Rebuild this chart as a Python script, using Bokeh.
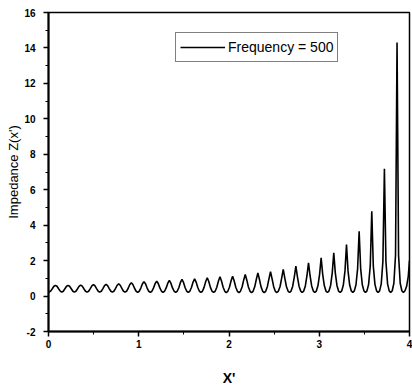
from bokeh.plotting import figure
from bokeh.models import Range1d, Legend, LegendItem, SingleIntervalTicker, ColumnDataSource
from bokeh.embed import file_html
from bokeh.resources import INLINE

# ---- data ----
series_name = "Frequency = 500"
period = 0.1402
start_x, start_z = 0.0, 0.30
peak_x = [0.077, 0.217, 0.357, 0.498, 0.638, 0.778, 0.918, 1.058, 1.199, 1.339,
          1.479, 1.619, 1.759, 1.900, 2.040, 2.180, 2.320, 2.460, 2.601, 2.741,
          2.881, 3.021, 3.161, 3.302, 3.442, 3.582, 3.722, 3.862]
peak_z = [0.60, 0.60, 0.62, 0.64, 0.66, 0.69, 0.75, 0.81, 0.84, 0.88,
          0.94, 0.97, 1.03, 1.09, 1.12, 1.22, 1.31, 1.37, 1.50, 1.69,
          1.88, 2.16, 2.44, 2.91, 3.66, 4.79, 7.18, 14.3]
trough_z = [0.23, 0.22, 0.22, 0.22, 0.22, 0.22, 0.22, 0.21, 0.21, 0.21,
            0.21, 0.21, 0.21, 0.21, 0.20, 0.20, 0.20, 0.20, 0.20, 0.20,
            0.20, 0.20, 0.20, 0.20, 0.20, 0.20, 0.20, 0.20]
near_z = [0.55, 0.55, 0.56, 0.58, 0.59, 0.61, 0.65, 0.69, 0.71, 0.73,
          0.77, 0.79, 0.82, 0.85, 0.86, 0.91, 0.95, 0.98, 1.03, 1.10,
          1.16, 1.24, 1.31, 1.42, 1.55, 1.70, 1.95, 2.30]
mid_z = [0.41, 0.41, 0.41, 0.42, 0.42, 0.43, 0.44, 0.45, 0.46, 0.46,
         0.47, 0.48, 0.49, 0.50, 0.50, 0.51, 0.52, 0.53, 0.54, 0.56,
         0.57, 0.59, 0.60, 0.62, 0.64, 0.66, 0.69, 0.72]
low_z = [0.28, 0.27, 0.27, 0.27, 0.27, 0.27, 0.27, 0.27, 0.27, 0.27,
         0.27, 0.27, 0.27, 0.27, 0.27, 0.27, 0.27, 0.27, 0.28, 0.28,
         0.28, 0.28, 0.28, 0.29, 0.29, 0.29, 0.29, 0.30]
end_trough_z = 0.20
tail_x = [3.950, 3.968, 3.986, 4.000]
tail_z = [0.30, 0.55, 1.10, 2.00]

x_tick_labels = {0: "0", 1: "1", 2: "2", 3: "3", 4: "4"}
y_tick_labels = {-2: "-2", 0: "0", 2: "2", 4: "4", 6: "6", 8: "8",
                 10: "10", 12: "12", 14: "14", 16: "16"}

# ---- build the curve table from the arrays ----
xs, ys = [start_x], [start_z]
for i in range(len(peak_x)):
    px = peak_x[i]
    for f, v in zip([0.5, 0.38, 0.25, 0.12], [trough_z[i], low_z[i], mid_z[i], near_z[i]]):
        x = px - f * period
        if x > start_x:
            xs.append(x)
            ys.append(v)
    xs.append(px)
    ys.append(peak_z[i])
    for f, v in zip([0.12, 0.25, 0.38], [near_z[i], mid_z[i], low_z[i]]):
        xs.append(px + f * period)
        ys.append(v)
xs.append(peak_x[-1] + 0.5 * period)
ys.append(end_trough_z)
xs += tail_x
ys += tail_z
src = ColumnDataSource(data=dict(x=xs, z=ys))

FONT = "Liberation Sans"

p = figure(width=412, height=388, output_backend="svg", toolbar_location=None,
           x_range=Range1d(0, 4), y_range=Range1d(-2, 16),
           min_border_left=48, min_border_right=3, min_border_top=12, min_border_bottom=56)
p.background_fill_color = "white"
p.border_fill_color = "white"
p.outline_line_color = "black"
p.outline_line_width = 1.5
p.xgrid.visible = False
p.ygrid.visible = False

r = p.line("x", "z", source=src, line_color="black", line_width=1.6)

p.xaxis.ticker = SingleIntervalTicker(interval=1, num_minor_ticks=2)
p.yaxis.ticker = SingleIntervalTicker(interval=2, num_minor_ticks=2)
p.xaxis.major_label_overrides = x_tick_labels
p.yaxis.major_label_overrides = y_tick_labels

for ax in (p.xaxis, p.yaxis):
    ax.axis_line_width = 2
    ax.axis_line_color = "black"
    ax.major_tick_line_color = "black"
    ax.minor_tick_line_color = "black"
    ax.major_tick_line_width = 1.5
    ax.major_tick_in = 0
    ax.major_tick_out = 5
    ax.minor_tick_in = 0
    ax.minor_tick_out = 3
    ax.major_label_text_font = FONT
    ax.major_label_text_font_size = "10px"
    ax.major_label_text_font_style = "bold"
    ax.major_label_text_color = "black"
    ax.axis_label_text_font = FONT
    ax.axis_label_text_color = "black"

p.xaxis.axis_label = "X'"
p.xaxis.axis_label_text_font_size = "14px"
p.xaxis.axis_label_text_font_style = "bold"
p.xaxis.major_label_standoff = 3
p.xaxis.axis_label_standoff = 19

p.yaxis.axis_label = "Impedance Z(x')"
p.yaxis.axis_label_text_font_size = "13px"
p.yaxis.axis_label_text_font_style = "normal"
p.yaxis.major_label_standoff = 8
p.yaxis.axis_label_standoff = 0

legend = Legend(items=[LegendItem(label=series_name, renderers=[r])],
                location=(127, 269), margin=0, padding=4, spacing=0,
                glyph_width=45, glyph_height=20, label_standoff=3,
                label_text_font=FONT, label_text_font_size="14px",
                label_text_color="black",
                border_line_color="black", border_line_width=1,
                background_fill_color="white", background_fill_alpha=1)
p.add_layout(legend)

open("out.html", "w").write(file_html(p, INLINE))
